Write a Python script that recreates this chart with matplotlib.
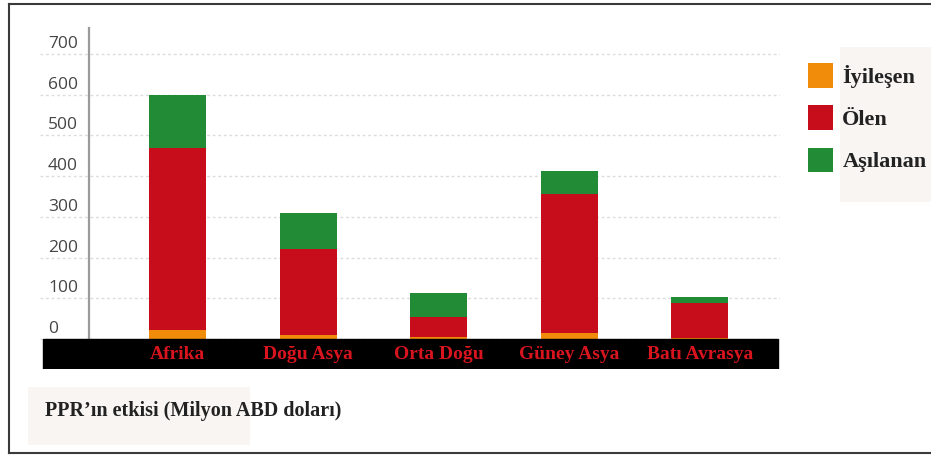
import matplotlib
matplotlib.use("Agg")
import matplotlib.pyplot as plt
from matplotlib.patches import Patch, Rectangle
from matplotlib.lines import Line2D
from matplotlib.transforms import ScaledTranslation
import numpy as np

# Regional impact of PPR, million USD
regions = ["Afrika", "Doğu Asya", "Orta Doğu", "Güney Asya", "Batı Avrasya"]
recovered = [22, 10, 5, 15, 3]        # İyileşen
died = [447, 211, 49, 341, 85]        # Ölen
vaccinated = [131, 89, 59, 57, 15]    # Aşılanan
series_labels = ["İyileşen", "Ölen", "Aşılanan"]
y_ticks = [0, 100, 200, 300, 400, 500, 600, 700]
caption = "PPR’ın etkisi (Milyon ABD doları)"

c_orange = "#f08c0a"
c_red = "#c70c1c"
c_green = "#228b36"

W, H = 931, 455
fig = plt.figure(figsize=(W / 100, H / 100), dpi=100)
fig.patch.set_facecolor("white")

def px_box(x0, y0, x1, y1):
    return [x0 / W, 1 - y1 / H, (x1 - x0) / W, (y1 - y0) / H]

# plot area (includes the black category band below zero)
ax = fig.add_axes(px_box(40, 28, 780, 369))
ax.set_xlim(-1.053, 4.613)
ax.set_ylim(-73.7, 764)

x = np.arange(len(regions))
bw = 0.436
rec = np.array(recovered)
die = np.array(died)
vac = np.array(vaccinated)
ax.bar(x, rec, width=bw, color=c_orange, zorder=2)
ax.bar(x, die, width=bw, bottom=rec, color=c_red, zorder=2)
ax.bar(x, vac, width=bw, bottom=rec + die, color=c_green, zorder=2)

# black band carrying the region names
ax.axhspan(-73.7, 0, xmin=0.004, xmax=0.997, color="black", zorder=3)
for xi, name in zip(x, regions):
    ax.text(xi, -38, name, ha="center", va="center", color="#d8141e",
            fontsize=14, fontweight="bold", family="Liberation Serif", zorder=4)

for s in ["top", "right", "bottom"]:
    ax.spines[s].set_visible(False)
ax.spines["left"].set_position(("data", -0.678))
ax.spines["left"].set_bounds(0, 764)
ax.spines["left"].set_color("#9a9a9a")
ax.spines["left"].set_linewidth(1.6)

ax.set_xticks([])
ax.set_yticks(y_ticks)
ax.set_yticklabels([str(v) for v in y_ticks])
ax.tick_params(axis="y", length=0, pad=29.5, labelsize=12.5, labelcolor="#454545")
offset = ScaledTranslation(0, 0.12, fig.dpi_scale_trans)
for lab in ax.get_yticklabels():
    lab.set_horizontalalignment("left")
    lab.set_family("Open Sans")
    lab.set_transform(lab.get_transform() + offset)
ax.yaxis.grid(True, color="#dcdcdc", linestyle=(0, (2, 2)), linewidth=1.0, zorder=0)
ax.set_axisbelow(True)

# legend with its shaded backdrop
fig.add_artist(Rectangle((840 / W, 1 - 202 / H), 91 / W, 155 / H,
                         transform=fig.transFigure, facecolor="#f8f5f3",
                         edgecolor="none", zorder=0))
leg_fs = 16
handles = [Patch(facecolor=c, edgecolor="none") for c in (c_orange, c_red, c_green)]
leg = fig.legend(handles, series_labels, loc="upper left",
                 bbox_to_anchor=(808 / W, 1 - 63 / H), frameon=False,
                 borderpad=0, borderaxespad=0, handlelength=1.125, handleheight=1.35,
                 handletextpad=0.42, labelspacing=0.78,
                 prop={"family": "Liberation Serif", "weight": "bold", "size": leg_fs})
for t in leg.get_texts():
    t.set_color("#222222")

# caption with its shaded backdrop
fig.add_artist(Rectangle((28 / W, 1 - 445 / H), 222 / W, 58 / H,
                         transform=fig.transFigure, facecolor="#f8f5f3",
                         edgecolor="none", zorder=0))
fig.text(45 / W, 1 - 411 / H, caption, ha="left", va="center",
         fontsize=14.5, family="Liberation Serif", fontweight="bold", color="#222222")

# outer frame
for (x0, y0, x1, y1) in [(9, 4, 931, 4), (9, 4, 9, 453), (9, 453, 931, 453)]:
    fig.add_artist(Line2D([x0 / W, x1 / W], [1 - y0 / H, 1 - y1 / H],
                          transform=fig.transFigure, color="#3a3a3a", linewidth=1.5))

fig.savefig("out.png", dpi=100)
